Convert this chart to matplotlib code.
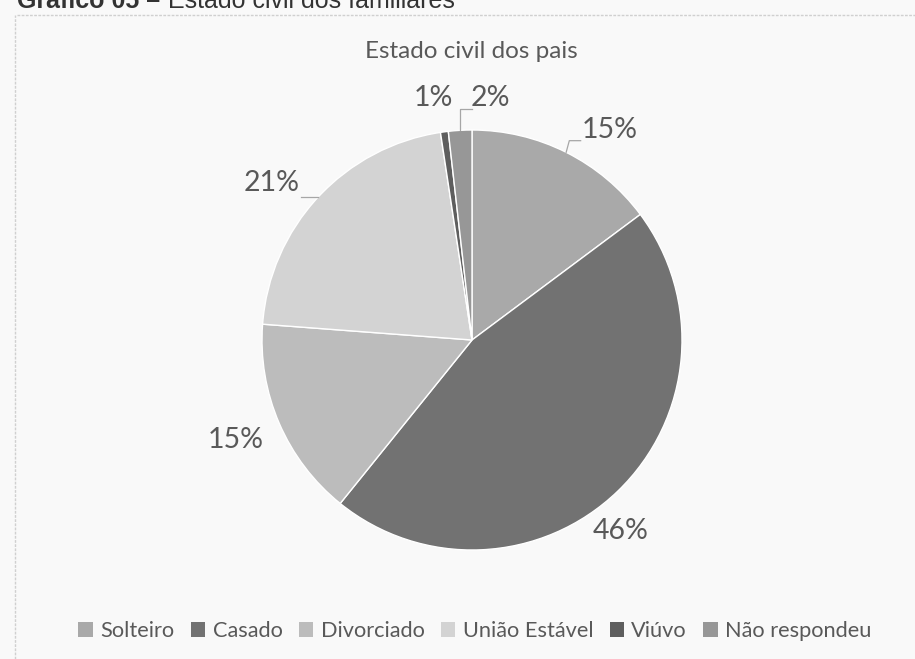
import numpy as np
import matplotlib
matplotlib.use("Agg")
import matplotlib.pyplot as plt

# ---------- data ----------
categorias = ["Solteiro", "Casado", "Divorciado", "União Estável", "Viúvo", "Não respondeu"]
percentuais = [14.8, 46.0, 15.4, 21.4, 0.6, 1.8]
rotulos = ["15%", "46%", "15%", "21%", "1%", "2%"]
cores = ["#a9a9a9", "#727272", "#bcbcbc", "#d3d3d3", "#5e5e5e", "#979797"]

# label layout: (radius, angle nudge in degrees, leader line?)
label_r = [1.196, 1.15, 1.22, 1.21, 1.166, 1.155]
label_nudge = [6.7, 6.0, 0.4, -4.8, -1.4, 7.7]
label_leader = [True, False, False, True, False, True]

bg = "#f9f9f9"
txt = "#595959"
font = "Lato"

fig = plt.figure(figsize=(9.15, 6.59), dpi=100)
fig.patch.set_facecolor(bg)

# figure header (cut off at top, like the scan)
fig.text(17 / 915, 1 - 8 / 659, "Gráfico 05 –", fontsize=18, fontweight="bold",
         family="Liberation Sans", color="#333333", va="baseline", ha="left")
fig.text(168 / 915, 1 - 8 / 659, "Estado civil dos familiares", fontsize=18,
         family="Liberation Sans", color="#333333", va="baseline", ha="left")

# chart border (top + left)
fig.add_artist(plt.Line2D([17 / 915, 1.0], [1 - 15 / 659, 1 - 15 / 659],
                          transform=fig.transFigure, color="#d0d0d0", lw=1, ls=(0, (2, 1))))
fig.add_artist(plt.Line2D([15 / 915, 15 / 915], [0, 1 - 15 / 659],
                          transform=fig.transFigure, color="#d0d0d0", lw=1, ls=(0, (2, 1))))

fig.text(471 / 915, 1 - 52 / 659, "Estado civil dos pais", fontsize=17.5, family=font,
         color=txt, ha="center", va="center")

ax = fig.add_axes([262 / 915, 1 - 550 / 659, 420 / 915, 420 / 659])
ax.set_facecolor(bg)
wedges, _ = ax.pie(percentuais, colors=cores, startangle=90, counterclock=False,
                   radius=1.0, wedgeprops=dict(edgecolor="white", linewidth=1.0))
ax.set_xlim(-1, 1)
ax.set_ylim(-1, 1)
ax.set_aspect("auto")
ax.axis("off")

for w, lab, r, nud, lead in zip(wedges, rotulos, label_r, label_nudge, label_leader):
    mid = np.deg2rad((w.theta1 + w.theta2) / 2)
    # matplotlib angles are ccw from +x; convert to clockwise-from-top
    ang_top = np.pi / 2 - mid
    lang = ang_top + np.deg2rad(nud)
    lx, ly = r * np.sin(lang), r * np.cos(lang)
    ax.text(lx, ly, lab, fontsize=20.5, family=font, color=txt,
            ha="center", va="center", clip_on=False)
    if lead:
        ex, ey = np.cos(mid), np.sin(mid)
        if lab == "2%":
            xs = [ex, ex, lx - 0.09]
            ys = [ey, ly - 0.05, ly - 0.05]
        elif lx >= 0:
            xs = [ex, ex + 0.015, lx - 0.14]
            ys = [ey, ly - 0.05, ly - 0.05]
        else:
            xs = [ex, lx + 0.14]
            ys = [ey, ey]
        ax.plot(xs, ys, color="#a6a6a6", lw=0.9, clip_on=False)

leg = fig.legend(wedges, categorias, loc="center", bbox_to_anchor=(475 / 915, 1 - 631 / 659),
                 ncol=6, frameon=False, handlelength=0.65, handleheight=0.65,
                 handletextpad=0.35, columnspacing=0.75,
                 prop=dict(family=font, size=15.7))
for t in leg.get_texts():
    t.set_color(txt)
for h in leg.legend_handles:
    h.set_edgecolor("none")

fig.savefig("out.png", dpi=100, facecolor=bg)
